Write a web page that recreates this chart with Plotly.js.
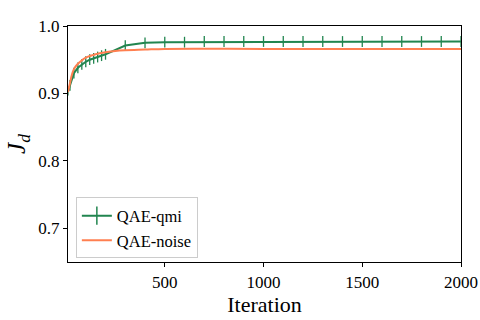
<!DOCTYPE html>
<html><head><meta charset="utf-8">
<script src="https://cdn.plot.ly/plotly-3.0.1.min.js"></script>
<style>html,body{margin:0;padding:0;background:#fff}#chart{width:480px;height:320px}</style>
</head><body><div id="chart"></div>
<script>
const qmiX = [10,20,40,60,80,100,120,140,160,180,200,300,400,500,600,700,800,900,1000,1100,1200,1300,1400,1500,1600,1700,1800,1900,2000];
const qmiY = [0.903,0.912,0.930,0.938,0.943,0.947,0.950,0.952,0.954,0.956,0.958,0.971,0.975,0.976,0.976,0.977,0.977,0.977,0.977,0.977,0.977,0.977,0.977,0.977,0.977,0.977,0.977,0.977,0.977];
const qmiErr = [0.006,0.008,0.008,0.008,0.008,0.008,0.008,0.008,0.008,0.008,0.008,0.008,0.008,0.008,0.008,0.008,0.008,0.008,0.008,0.008,0.008,0.008,0.008,0.008,0.008,0.008,0.008,0.008,0.008];
const noiseX = [10,20,30,40,60,80,100,150,200,250,300,400,500,1000,1500,2000];
const noiseY = [0.902,0.915,0.928,0.936,0.944,0.949,0.953,0.958,0.961,0.963,0.964,0.965,0.966,0.966,0.966,0.966];
const xTicks = [500,1000,1500,2000];
const yTicks = [0.7,0.8,0.9,1.0];

const green = '#21854f', orange = '#ff7f50';
const font = 'Liberation Serif';
const data = [
  {x: qmiX, y: qmiY, mode: 'lines', name: 'QAE-qmi', showlegend: false, legendgroup: 'q',
   line: {color: green, width: 2},
   error_y: {type: 'data', array: qmiErr, visible: true, color: green, thickness: 1.3, width: 0}},
  {x: [null], y: [null], mode: 'lines+markers', name: 'QAE-qmi', legendgroup: 'q',
   line: {color: green, width: 2}, marker: {symbol: 'line-ns-open', size: 13, color: green, line: {color: green, width: 1.5}}},
  {x: noiseX, y: noiseY, mode: 'lines', name: 'QAE-noise', line: {color: orange, width: 2, shape: 'spline'}}
];
const layout = {
  width: 480, height: 320,
  margin: {l: 68, r: 19, t: 26, b: 58},
  paper_bgcolor: '#fff', plot_bgcolor: '#fff',
  font: {family: font, size: 17, color: '#000'},
  showlegend: true,
  legend: {x: 0.02, y: 0.015, xanchor: 'left', yanchor: 'bottom', bgcolor: 'rgba(255,255,255,0.8)',
           bordercolor: '#cccccc', borderwidth: 1, font: {family: font, size: 16.5, color: '#000'}, tracegroupgap: 0},
  xaxis: {range: [10, 2000], tickvals: xTicks, ticks: 'outside', ticklen: 4, tickcolor: '#000',
          tickfont: {family: font, size: 17, color: '#000'},
          showline: true, linecolor: '#000', linewidth: 1.2, mirror: true, showgrid: false, zeroline: false,
          title: {text: 'Iteration', font: {family: font, size: 22}, standoff: 6}},
  yaxis: {range: [0.65, 1.0], tickvals: yTicks, tickformat: '.1f', ticks: 'outside', ticklen: 4, tickcolor: '#000',
          tickfont: {family: font, size: 17, color: '#000'},
          showline: true, linecolor: '#000', linewidth: 1.2, mirror: true, showgrid: false, zeroline: false,
          title: {text: '<i>J<sub>d</sub></i>', font: {family: font, size: 25}, standoff: 5}}
};
Plotly.newPlot('chart', data, layout, {displayModeBar: false, staticPlot: true});
</script></body></html>
